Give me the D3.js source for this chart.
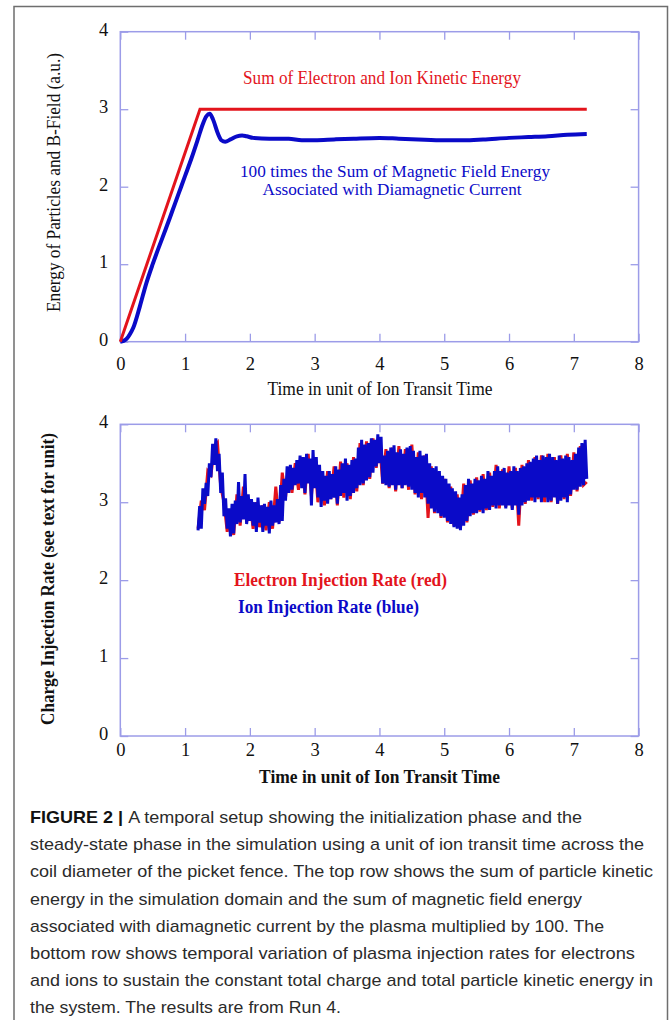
<!DOCTYPE html>
<html>
<head>
<meta charset="utf-8">
<script src="https://cdn.jsdelivr.net/npm/d3@7"></script>
<style>
  body { margin: 0; background: #fff; }
  svg { display: block; }
</style>
</head>
<body>
<svg width="669" height="1020"></svg>
<script>
// ---- data ----
var xTicks = [0, 1, 2, 3, 4, 5, 6, 7, 8];
var yTicks = [0, 1, 2, 3, 4];

// top panel: kinetic energy (red) and 100 x magnetic energy (blue)
var kinTime = [0, 1.23, 7.2];
var kinEnergy = [0, 3, 3];
var magTime = [0, 0.05, 0.1, 0.15, 0.2, 0.3, 0.4, 0.5, 0.6, 0.7, 0.8, 0.9, 1.0, 1.1, 1.2, 1.27, 1.33, 1.38, 1.43, 1.5, 1.56, 1.62, 1.7, 1.8, 1.88, 1.95, 2.05, 2.3, 2.6, 2.8, 3.0, 3.3, 3.6, 4.0, 4.3, 4.6, 5.0, 5.3, 5.6, 6.0, 6.3, 6.6, 6.9, 7.2];
var magEnergy = [0, 0.01, 0.04, 0.1, 0.18, 0.45, 0.75, 1.0, 1.23, 1.45, 1.68, 1.91, 2.14, 2.37, 2.62, 2.8, 2.91, 2.94, 2.87, 2.70, 2.60, 2.58, 2.61, 2.65, 2.66, 2.65, 2.63, 2.62, 2.62, 2.60, 2.60, 2.61, 2.62, 2.63, 2.62, 2.61, 2.60, 2.60, 2.61, 2.63, 2.64, 2.65, 2.67, 2.68];

// bottom panel: injection rates, sampled from t = 1.2
var ionT0 = 1.2, ionDt = 0.025;
var ionRate = [
  2.64, 2.95, 2.66, 3.18, 2.98, 3.25, 3.08, 3.50, 3.32, 3.75, 3.48, 3.82, 3.40, 3.62, 3.12, 3.38,
  2.82, 3.05, 2.66, 2.92, 2.56, 2.98, 2.60, 3.02, 2.72, 3.26, 2.74, 3.08, 2.78, 3.36, 2.72, 3.10,
  2.76, 3.04, 2.70, 3.00, 2.62, 3.06, 2.74, 2.96, 2.62, 2.98, 2.70, 2.94, 2.60, 3.02, 2.70, 2.96,
  2.74, 3.04, 2.72, 3.22, 2.76, 3.30, 3.02, 3.46, 3.12, 3.48, 3.16, 3.44, 3.22, 3.54, 3.24, 3.60,
  3.18, 3.58, 3.12, 3.62, 3.24, 3.56, 2.96, 3.67, 3.18, 3.58, 3.06, 3.48, 2.94, 3.40, 3.02, 3.34,
  2.98, 3.40, 3.04, 3.36, 3.06, 3.46, 2.98, 3.42, 3.08, 3.50, 3.12, 3.56, 3.02, 3.48, 3.08, 3.54,
  3.12, 3.56, 3.18, 3.70, 3.22, 3.80, 3.24, 3.74, 3.28, 3.76, 3.32, 3.82, 3.38, 3.80, 3.46, 3.87,
  3.50, 3.84, 3.24, 3.60, 3.22, 3.66, 3.20, 3.70, 3.22, 3.73, 3.16, 3.64, 3.22, 3.68, 3.18, 3.62,
  3.22, 3.70, 3.20, 3.72, 3.16, 3.66, 3.12, 3.58, 3.06, 3.66, 3.12, 3.60, 3.06, 3.62, 2.98, 3.50,
  2.92, 3.44, 2.88, 3.46, 2.86, 3.40, 2.82, 3.34, 2.80, 3.30, 2.76, 3.24, 2.72, 3.18, 2.68, 3.14,
  2.66, 3.06, 2.64, 3.10, 2.70, 3.22, 2.76, 3.30, 2.82, 3.24, 2.86, 3.30, 2.86, 3.28, 2.90, 3.34,
  2.86, 3.30, 2.92, 3.40, 2.90, 3.34, 2.96, 3.40, 2.92, 3.46, 2.96, 3.40, 2.96, 3.44, 2.92, 3.38,
  2.96, 3.40, 2.90, 3.46, 2.96, 3.40, 2.84, 3.44, 2.96, 3.46, 3.00, 3.50, 3.02, 3.52, 3.06, 3.56,
  3.00, 3.60, 3.06, 3.54, 3.00, 3.60, 3.06, 3.58, 3.00, 3.62, 3.02, 3.58, 3.06, 3.54, 2.98, 3.60,
  3.02, 3.56, 3.06, 3.60, 3.00, 3.58, 3.10, 3.54, 3.16, 3.62, 3.16, 3.70, 3.20, 3.76, 3.22, 3.80,
  3.30
];
var eleT0 = 1.2, eleDt = 0.05;
var electronRate = [
  2.66, 3.02, 2.90, 3.40, 3.35, 3.70, 3.76, 3.20, 3.00, 2.62, 2.90, 2.58, 3.10, 2.70, 3.20, 2.74,
  3.02, 2.66, 3.00, 2.68, 2.96, 2.64, 3.00, 2.66, 3.20, 2.74, 3.38, 3.06, 3.44, 3.12, 3.50, 3.16,
  3.58, 3.10, 3.62, 3.08, 3.55, 3.00, 3.38, 2.96, 3.40, 3.04, 3.46, 2.96, 3.52, 3.06, 3.50, 3.04,
  3.58, 3.14, 3.76, 3.22, 3.78, 3.30, 3.82, 3.44, 3.80, 3.24, 3.68, 3.18, 3.70, 3.14, 3.72, 3.18,
  3.68, 3.16, 3.74, 3.10, 3.64, 3.04, 3.60, 2.80, 3.46, 2.86, 3.38, 2.80, 3.30, 2.74, 3.20, 2.70,
  3.10, 2.66, 3.24, 2.74, 3.28, 2.84, 3.32, 2.88, 3.36, 2.90, 3.38, 2.94, 3.48, 2.92, 3.42, 2.94,
  3.46, 2.92, 3.44, 2.70, 3.48, 2.98, 3.54, 3.02, 3.58, 3.04, 3.60, 3.00, 3.62, 3.00, 3.58, 2.98,
  3.60, 3.04, 3.62, 3.08, 3.64, 3.14, 3.72, 3.22, 3.26
];

var captionLines = [
  "A temporal setup showing the initialization phase and the",
  "steady-state phase in the simulation using a unit of ion transit time across the",
  "coil diameter of the picket fence. The top row shows the sum of particle kinetic",
  "energy in the simulation domain and the sum of magnetic field energy",
  "associated with diamagnetic current by the plasma multiplied by 100. The",
  "bottom row shows temporal variation of plasma injection rates for electrons",
  "and ions to sustain the constant total charge and total particle kinetic energy in",
  "the system. The results are from Run 4."
];
var captionEnds = [582, 644, 653, 582, 604, 635, 653, 341];

// ---- drawing ----
var RED = "#e3141c", BLUE = "#0a0ac8", FRAME = "#9c9ce8";
var serif = "'Liberation Serif', 'Times New Roman', serif";

var svg = d3.select("svg");

// figure border
svg.append("path")
  .attr("d", "M14,1030 V6.5 H667.5 V1030")
  .attr("fill", "none")
  .attr("stroke", "#6e6e6e")
  .attr("stroke-width", 1.5);

function panel(top, bottom, xPad) {
  var x = d3.scaleLinear().domain([0, 8]).range([120.3, 638.6]);
  var y = d3.scaleLinear().domain([0, 4]).range([bottom, top]);
  var g = svg.append("g");

  g.append("g").attr("transform", "translate(0," + bottom + ")")
    .call(d3.axisBottom(x).tickValues(xTicks).tickSize(-8).tickSizeOuter(0).tickPadding(xPad).tickFormat(d3.format("d")));
  g.append("g").attr("transform", "translate(0," + top + ")")
    .call(d3.axisTop(x).tickValues(xTicks).tickSize(-8).tickSizeOuter(0).tickFormat(""));
  var yAx = g.append("g").attr("transform", "translate(120.3,0)")
    .call(d3.axisLeft(y).tickValues(yTicks).tickSize(-8).tickSizeOuter(0).tickPadding(12).tickFormat(d3.format("d")));
  g.append("g").attr("transform", "translate(638.6,0)")
    .call(d3.axisRight(y).tickValues(yTicks).tickSize(-8).tickSizeOuter(0).tickFormat(""));

  g.selectAll(".domain").remove();
  g.selectAll(".tick line").attr("stroke", FRAME).attr("stroke-width", 1.3);
  g.selectAll(".tick text")
    .attr("font-family", serif).attr("font-size", "18.5px").attr("fill", "#111");
  yAx.selectAll(".tick text").attr("dy", "0.18em");

  g.append("rect")
    .attr("x", 120.3).attr("y", top)
    .attr("width", 638.6 - 120.3).attr("height", bottom - top)
    .attr("fill", "none").attr("stroke", FRAME).attr("stroke-width", 1.5);

  return { g: g, x: x, y: y };
}

// text helper: serif label squeezed to the width measured on the figure
function label(g, x, y, size, width, fill, str, bold, rotate) {
  var t = g.append("text")
    .attr("text-anchor", "middle").attr("font-family", serif)
    .attr("font-size", size + "px").attr("fill", fill)
    .attr("textLength", width).attr("lengthAdjust", "spacingAndGlyphs")
    .text(str);
  if (bold) t.attr("font-weight", "bold");
  if (rotate) t.attr("transform", "translate(" + x + "," + y + ") rotate(-90)");
  else t.attr("x", x).attr("y", y);
  return t;
}

// ---- top panel ----
var p1 = panel(31.7, 341.7, 15);

var kinData = kinTime.map(function (t, i) { return [t, kinEnergy[i]]; });
var magData = magTime.map(function (t, i) { return [t, magEnergy[i]]; });

p1.g.append("path").datum(magData)
  .attr("fill", "none").attr("stroke", BLUE).attr("stroke-width", 4)
  .attr("d", d3.line().curve(d3.curveMonotoneX)
    .x(function (d) { return p1.x(d[0]); }).y(function (d) { return p1.y(d[1]); }));
p1.g.append("path").datum(kinData)
  .attr("fill", "none").attr("stroke", RED).attr("stroke-width", 3)
  .attr("d", d3.line().x(function (d) { return p1.x(d[0]); }).y(function (d) { return p1.y(d[1]); }));

label(p1.g, 382, 83.5, 18.5, 278, RED, "Sum of Electron and Ion Kinetic Energy");
label(p1.g, 395, 177, 17.5, 310, BLUE, "100 times the Sum of Magnetic Field Energy");
label(p1.g, 392, 195, 17.5, 259, BLUE, "Associated with Diamagnetic Current");

label(p1.g, 380, 394.5, 18.5, 225, "#111", "Time in unit of Ion Transit Time");
label(p1.g, 59.5, 182.5, 18.5, 259, "#111", "Energy of Particles and B-Field (a.u.)", false, true);

// ---- bottom panel ----
var p2 = panel(424.3, 736, 6.5);

var eleData = electronRate.map(function (v, i) { return [eleT0 + i * eleDt, v]; });
var ionData = ionRate.map(function (v, i) { return [ionT0 + i * ionDt, v]; });

var rateLine = d3.line()
  .x(function (d) { return p2.x(d[0]); })
  .y(function (d) { return p2.y(d[1]); });

p2.g.append("path").datum(eleData)
  .attr("fill", "none").attr("stroke", RED).attr("stroke-width", 3)
  .attr("d", rateLine);
p2.g.append("path").datum(ionData)
  .attr("fill", "none").attr("stroke", BLUE).attr("stroke-width", 3)
  .attr("d", rateLine);

label(p2.g, 340.5, 585.5, 18.5, 213, RED, "Electron Injection Rate (red)", true);
label(p2.g, 328.5, 613, 18.5, 181, BLUE, "Ion Injection Rate (blue)", true);

label(p2.g, 379.6, 783, 18.5, 241, "#111", "Time in unit of Ion Transit Time", true);
label(p2.g, 53.5, 579, 18.5, 292, "#111", "Charge Injection Rate (see text for unit)", true, true);

// ---- caption ----
var cap = svg.append("g")
  .attr("font-family", "'Liberation Sans', Arial, sans-serif")
  .attr("font-size", "17px")
  .attr("fill", "#2b2b2b");

captionLines.forEach(function (line, i) {
  var t = cap.append("text")
    .attr("x", 30).attr("y", 823 + i * 27.2)
    .attr("textLength", captionEnds[i] - 30)
    .attr("lengthAdjust", "spacingAndGlyphs");
  if (i == 0) {
    t.append("tspan").attr("font-weight", "bold").attr("fill", "#111").text("FIGURE 2 | ");
  }
  t.append("tspan").text(line);
});
</script>
</body>
</html>
